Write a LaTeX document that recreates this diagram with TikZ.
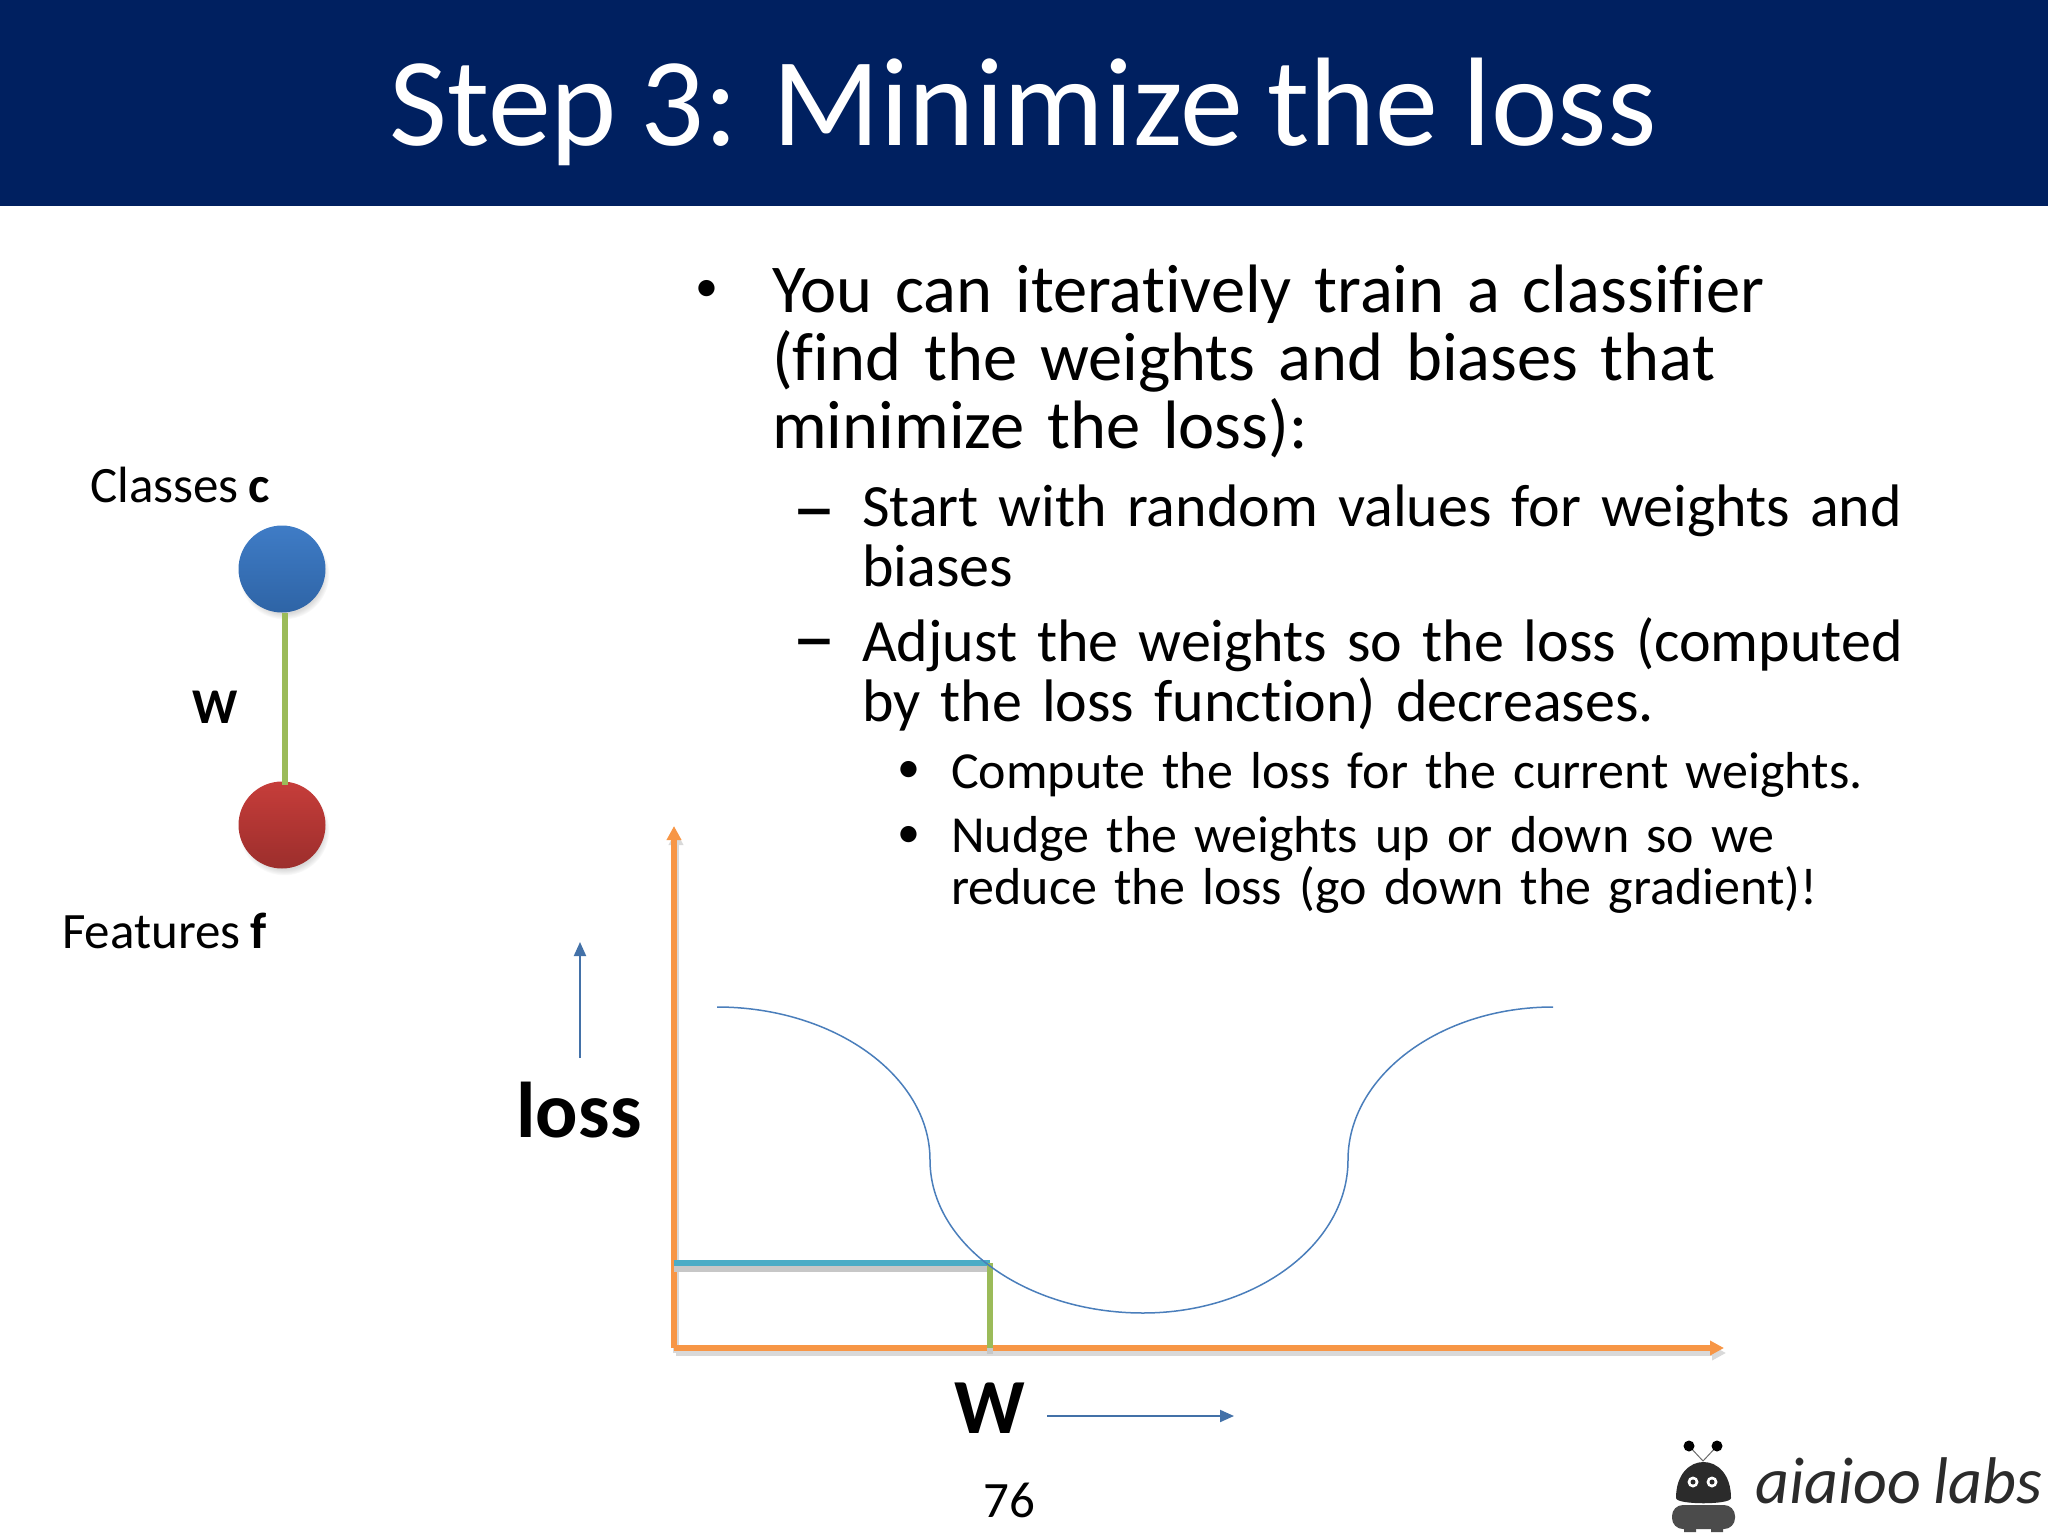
\documentclass[tikz,border=0pt]{standalone}
\usepackage{fontspec}
\setmainfont[RawFeature={-liga},WordSpace=0.85]{Carlito}
\usetikzlibrary{positioning,shadows,arrows.meta}
\definecolor{bannerblue}{HTML}{002060}
\definecolor{axisorange}{HTML}{F79646}
\definecolor{weightgreen}{HTML}{9BBB59}
\definecolor{losscyan}{HTML}{4BACC6}
\definecolor{curveblue}{HTML}{4A7EBB}
\definecolor{classtop}{HTML}{3F7CC6}
\definecolor{classbottom}{HTML}{2E64A6}
\definecolor{featuretop}{HTML}{C63D3A}
\definecolor{featurebottom}{HTML}{9C2E2C}
\definecolor{logodark}{HTML}{2B2B2B}
\newcommand{\fs}[2]{\fontsize{#1}{#2}\selectfont\lineskiplimit=-1000pt}
\tikzstyle{unit}=[
	circle,
	minimum size=87pt,
	inner sep=0pt,
	circular drop shadow={shadow xshift=2pt,shadow yshift=-5pt,shadow scale=1.04,opacity=.3}
]
\tikzstyle{caption}=[
	inner sep=0pt,
	anchor=base west,
	font=\fs{51}{52}
]
\tikzstyle{itemone}=[caption, font=\fs{68.5}{68}, text width=1150pt, align=left]
\tikzstyle{itemtwo}=[caption, font=\fs{60}{60}, text width=1060pt, align=left]
\tikzstyle{itemthree}=[caption, font=\fs{52}{52}, text width=1000pt, align=left]
\tikzstyle{dotmark}=[caption, anchor=base, font=\fs{46}{46}]
\tikzstyle{dashmark}=[caption, anchor=base, font=\fs{88}{88}]
\tikzstyle{axisline}=[
	-{Triangle[length=14pt,width=14pt]},
	draw=axisorange,
	line width=5.5pt,
	preaction={draw=black!15,line width=5.5pt,transform canvas={xshift=2pt,yshift=-5pt}}
]
\tikzstyle{levelline}=[
	line width=5.5pt,
	preaction={draw=black!22,line width=6pt,transform canvas={yshift=-6pt}}
]
\tikzstyle{hint}=[
	-{Triangle[length=14pt,width=12pt]},
	draw=curveblue!90!black,
	line width=2pt
]
\begin{document}
\begin{tikzpicture}[x=1pt,y=-1pt]
\useasboundingbox (0,0) rectangle (2048,1536);
\fill[bannerblue] (0,0) rectangle (2048,206);
\node [inner sep=0pt,text=white,font=\fs{126}{126},anchor=base] (title) at (1023,146) {Step 3: Minimize the loss};
% text block
\node [itemone] (first) at (772,312) {You can iteratively train a classifier\\(find the weights and biases that\\minimize the loss):};
\node [itemtwo] (second) at (862,526) {Start with random values for weights and\\biases};
\node [itemtwo] (third) at (862,661) {Adjust the weights so the loss (computed\\by the loss function) decreases.};
\node [itemthree] (fourth) at (951,788) {Compute the loss for the current weights.};
\node [itemthree] (fifth) at (951,852) {Nudge the weights up or down so we\\reduce the loss (go down the gradient)!};
\node [dotmark] (bulletone) at (707,301) {•};
\node [dashmark] (dashone) at (814,536) {–};
\node [dashmark] (dashtwo) at (814,666) {–};
\node [dotmark] (bullettwo) at (909,782) {•};
\node [dotmark] (bulletthree) at (909,847) {•};
% network
\node [unit,top color=classtop,bottom color=classbottom] (classes) at (282,569) {};
\node [unit,top color=featuretop,bottom color=featurebottom] (features) at (282,825) {};
\node [caption] (classeslabel) at (90,502) {Classes \textbf{c}};
\node [caption] (featureslabel) at (62,948) {Features \textbf{f}};
\node [caption,font=\fs{50}{50}\bfseries,anchor=base] (weight) at (215,723) {W};
\coordinate (weighttop) at (285,613);
\coordinate (weightbottom) at (285,785);
\draw [weightgreen,line width=6pt] (weighttop) -- (weightbottom);
% plot
\coordinate (origin) at (674,1348);
\coordinate (ytip) at (674,826);
\coordinate (xtip) at (1724,1348);
\coordinate (hit) at (990,1263);
\coordinate (hitleft) at (674,1263);
\coordinate (hitdown) at (990,1348);
\draw [axisline] (origin) -- (ytip);
\draw [axisline] (origin) -- (xtip);
\draw [levelline,losscyan] (hitleft) -- (hit);
\draw [levelline,weightgreen] (hit) -- (hitdown);
\coordinate (curvea) at (717,1007);
\coordinate (curveb) at (930,1160);
\coordinate (curvec) at (1143,1313);
\coordinate (curved) at (1348,1160);
\coordinate (curvee) at (1553,1007);
\draw [curveblue,line width=1.5pt] (curvea) .. controls (834,1007) and (930,1076) .. (curveb)
	.. controls (930,1244) and (1026,1313) .. (curvec)
	.. controls (1256,1313) and (1348,1244) .. (curved)
	.. controls (1348,1076) and (1440,1007) .. (curvee);
\node [caption,font=\fs{79}{79}\bfseries,anchor=base] (loss) at (579,1137) {loss};
\node [caption,font=\fs{78}{78}\bfseries,anchor=base] (bigweight) at (990,1433) {W};
\coordinate (lossfoot) at (580,1058);
\coordinate (losstip) at (580,942);
\coordinate (wfoot) at (1047,1416);
\coordinate (wtip) at (1234,1416);
\draw [hint] (lossfoot) -- (losstip);
\draw [hint] (wfoot) -- (wtip);
\node [caption,anchor=base] (pagenumber) at (1009,1517) {76};
% logo
\fill [logodark] (1676,1498) .. controls (1676,1450) and (1731,1450) .. (1731,1498) .. controls (1731,1505) and (1676,1505) .. (1676,1498) -- cycle;
\fill [logodark!85!white,rounded corners=11pt] (1672,1505) rectangle (1735,1529);
\fill [logodark!85!white] (1684,1525) rectangle (1696,1532) (1711,1525) rectangle (1723,1532);
\draw [logodark!70!white,line width=1pt] (1689,1446) -- (1703,1461) -- (1717,1446);
\fill [black] (1689,1446) circle (5.5) (1717,1446) circle (5.5);
\fill [white] (1693,1482) circle (5.5) (1712,1482) circle (5.5);
\fill [logodark] (1693,1482) circle (2.5) (1712,1482) circle (2.5);
\node [caption,font=\fs{66}{66}\itshape,text=logodark] (logotext) at (1755,1503) {aiaioo labs};
\end{tikzpicture}
\end{document}
